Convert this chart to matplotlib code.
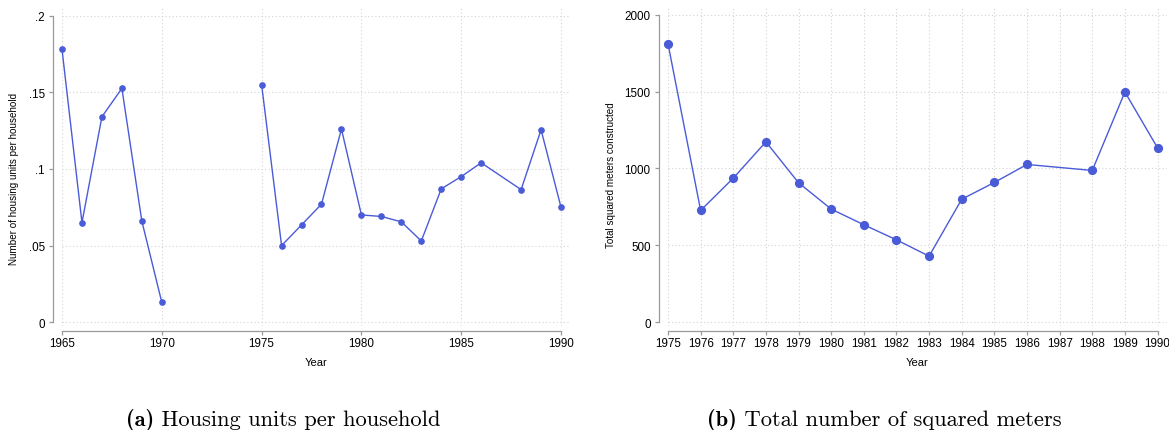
import numpy as np
import matplotlib
matplotlib.use("Agg")
import matplotlib.pyplot as plt
from matplotlib.ticker import FixedLocator, FixedFormatter

nan = np.nan

# ---- Panel (a): housing units per household ----
years_a = [1965, 1966, 1967, 1968, 1969, 1970, 1971, 1972, 1973, 1974,
           1975, 1976, 1977, 1978, 1979, 1980, 1981, 1982, 1983, 1984,
           1985, 1986, 1988, 1989, 1990]
units_a = [0.178, 0.065, 0.134, 0.1525, 0.066, 0.013, nan, nan, nan, nan,
           0.155, 0.050, 0.0635, 0.077, 0.126, 0.070, 0.069, 0.0655, 0.053, 0.087,
           0.095, 0.104, 0.0865, 0.1255, 0.075]
xticks_a = [1965, 1970, 1975, 1980, 1985, 1990]
yticks_a = [0, 0.05, 0.1, 0.15, 0.2]
yticklabels_a = ["0", ".05", ".1", ".15", ".2"]

# ---- Panel (b): total squared meters ----
years_b = [1975, 1976, 1977, 1978, 1979, 1980, 1981, 1982, 1983, 1984,
           1985, 1986, 1988, 1989, 1990]
meters_b = [1811, 727, 937, 1173, 907, 736, 634, 536, 430, 800,
            909, 1026, 987, 1497, 1134]
xticks_b = list(range(1975, 1991))
yticks_b = [0, 500, 1000, 1500, 2000]
yticklabels_b = ["0", "500", "1000", "1500", "2000"]

ylabel_a = "Number of housing units per household"
ylabel_b = "Total squared meters constructed"
xlabel = "Year"
cap_tag_a, cap_text_a = "(a)", "Housing units per household"
cap_tag_b, cap_text_b = "(b)", "Total number of squared meters"

plt.rcParams["font.family"] = ["Liberation Sans", "DejaVu Sans"]

W, H = 1169, 431
fig = plt.figure(figsize=(W / 100, H / 100), dpi=100)
fig.patch.set_facecolor("white")

blue = "#4a5bd8"
spine_col = "#9a9a9a"
grid_col = "#d4d4d4"
TICK_FS = 8.4
LAB_FS = 7.1


def style(ax, xt, yt, ytl, xlo, xhi, ylo, yhi, ylabel):
    ax.set_facecolor("white")
    for s in ("top", "right"):
        ax.spines[s].set_visible(False)
    ax.spines["left"].set_position(("outward", 6.5))
    ax.spines["bottom"].set_position(("outward", 3.6))
    ax.spines["left"].set_bounds(yt[0], yt[-1])
    ax.spines["bottom"].set_bounds(xt[0], xt[-1])
    for s in ("left", "bottom"):
        ax.spines[s].set_color(spine_col)
        ax.spines[s].set_linewidth(0.9)
    ax.xaxis.set_major_locator(FixedLocator(xt))
    ax.xaxis.set_major_formatter(FixedFormatter([str(v) for v in xt]))
    ax.yaxis.set_major_locator(FixedLocator(yt))
    ax.yaxis.set_major_formatter(FixedFormatter(ytl))
    ax.tick_params(axis="both", colors=spine_col, length=3, width=0.9,
                   labelcolor="black", labelsize=TICK_FS)
    ax.tick_params(axis="x", pad=1.2)
    ax.tick_params(axis="y", pad=3)
    ax.set_xlim(xlo, xhi)
    ax.set_ylim(ylo, yhi)
    ax.grid(True, which="major", color=grid_col, linestyle=(0, (1, 2.2)),
            linewidth=0.8)
    ax.set_axisbelow(True)
    ax.set_xlabel(xlabel, fontsize=8.0, labelpad=6)
    ax.set_ylabel(ylabel, fontsize=LAB_FS)


bottom_px = 327
ax_h = 320
axA = fig.add_axes([62 / W, (H - bottom_px) / H, 508 / W, ax_h / H])
axA.plot(years_a, units_a, color=blue, lw=1.0, marker="o", ms=3.8,
         mfc=blue, mec=blue, clip_on=False, zorder=3)
style(axA, xticks_a, yticks_a, yticklabels_a, 1965, 1990.45, -0.0024, 0.2062,
      ylabel_a)

axB = fig.add_axes([668 / W, (H - bottom_px) / H, 499 / W, ax_h / H])
axB.plot(years_b, meters_b, color=blue, lw=1.0, marker="o", ms=5.6,
         mfc=blue, mec=blue, clip_on=False, zorder=3)
style(axB, xticks_b, yticks_b, yticklabels_b, 1975, 1990.29, -24, 2056,
      ylabel_b)

# y-label placement (x in px from figure left, centre y in px from top)
def place_ylabel(ax, x_px, yc_px):
    pos = ax.get_position()
    ax_left = pos.x0 * W
    ax_top = (1 - pos.y1) * H
    ax.yaxis.set_label_coords((x_px - ax_left) / (pos.width * W),
                              1 - (yc_px - ax_top) / (pos.height * H))
    ax.yaxis.label.set_va("center")

place_ylabel(axA, 14, 179)
place_ylabel(axB, 611, 175)

# captions: bold tag + regular text, centred as a whole
CAP_FS = 16.2
renderer = fig.canvas.get_renderer()

def caption(tag, text, xc_px, yc_px):
    t1 = fig.text(0, 1 - yc_px / H, tag, ha="left", va="center",
                  fontsize=CAP_FS, family="cmb10")
    t2 = fig.text(0, 1 - yc_px / H, " " + text, ha="left", va="center",
                  fontsize=CAP_FS, family="cmr10")
    w1 = t1.get_window_extent(renderer).width
    w2 = t2.get_window_extent(renderer).width
    x0 = xc_px - (w1 + w2) / 2
    t1.set_x(x0 / W)
    t2.set_x((x0 + w1) / W)

caption(cap_tag_a, cap_text_a, 283, 420)
caption(cap_tag_b, cap_text_b, 884, 420)

fig.savefig("out.png", dpi=100, facecolor="white")
